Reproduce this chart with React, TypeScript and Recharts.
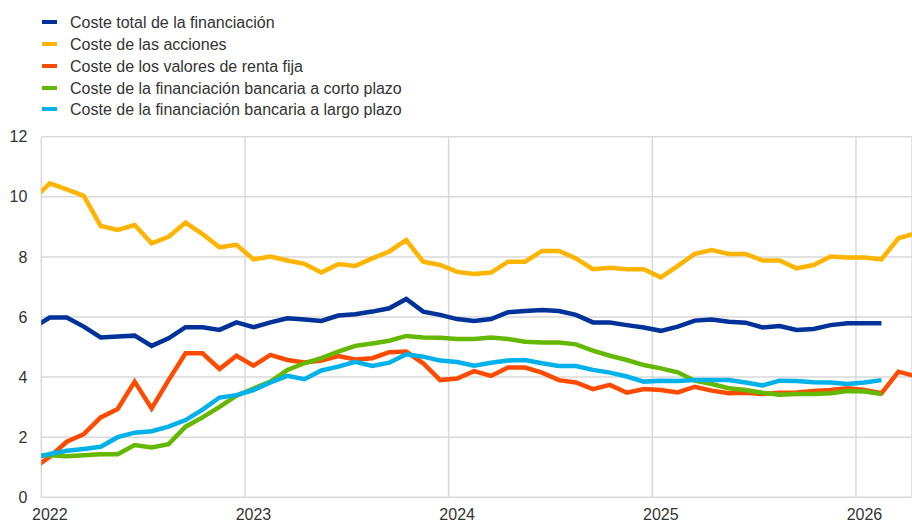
import { CartesianGrid, Line, LineChart, XAxis, YAxis } from 'recharts';

// monthly observations, Dec 2021 (clipped at the left edge) to Apr 2026
const months = [
  '2021-12',
  '2022-01', '2022-02', '2022-03', '2022-04', '2022-05', '2022-06',
  '2022-07', '2022-08', '2022-09', '2022-10', '2022-11', '2022-12',
  '2023-01', '2023-02', '2023-03', '2023-04', '2023-05', '2023-06',
  '2023-07', '2023-08', '2023-09', '2023-10', '2023-11', '2023-12',
  '2024-01', '2024-02', '2024-03', '2024-04', '2024-05', '2024-06',
  '2024-07', '2024-08', '2024-09', '2024-10', '2024-11', '2024-12',
  '2025-01', '2025-02', '2025-03', '2025-04', '2025-05', '2025-06',
  '2025-07', '2025-08', '2025-09', '2025-10', '2025-11', '2025-12',
  '2026-01', '2026-02', '2026-03', '2026-04',
];

const totalCost = [
  5.64,
  5.98, 5.98, 5.68, 5.32, 5.35, 5.38, 5.04, 5.29, 5.66, 5.66, 5.57, 5.82,
  5.66, 5.82, 5.96, 5.92, 5.87, 6.05, 6.09, 6.18, 6.29, 6.6, 6.18, 6.07,
  5.93, 5.87, 5.93, 6.16, 6.2, 6.23, 6.2, 6.07, 5.82, 5.82, 5.73, 5.65,
  5.54, 5.68, 5.88, 5.92, 5.84, 5.81, 5.65, 5.7, 5.57, 5.6, 5.73, 5.79,
  5.79, 5.79, null, null,
];

const equityCost = [
  9.9,
  10.45, 10.25, 10.03, 9.03, 8.9, 9.06, 8.45, 8.67, 9.14, 8.76, 8.32, 8.4,
  7.92, 8.01, 7.88, 7.77, 7.48, 7.76, 7.7, 7.95, 8.18, 8.56, 7.84, 7.73,
  7.5, 7.43, 7.48, 7.84, 7.84, 8.2, 8.2, 7.95, 7.59, 7.64, 7.59, 7.59,
  7.32, 7.7, 8.1, 8.23, 8.1, 8.1, 7.88, 7.88, 7.62, 7.73, 8.01, 7.98,
  7.98, 7.92, 8.62, 8.78,
];

const debtCost = [
  0.95,
  1.35, 1.85, 2.1, 2.66, 2.94, 3.85, 2.96, 3.9, 4.79, 4.79, 4.27, 4.71,
  4.38, 4.74, 4.57, 4.49, 4.55, 4.7, 4.59, 4.63, 4.83, 4.85, 4.46, 3.9,
  3.95, 4.2, 4.04, 4.32, 4.32, 4.15, 3.9, 3.82, 3.6, 3.74, 3.48, 3.6,
  3.57, 3.49, 3.68, 3.55, 3.46, 3.48, 3.44, 3.48, 3.49, 3.54, 3.57, 3.63,
  3.57, 3.46, 4.18, 4.03,
];

const shortBankCost = [
  1.4,
  1.4, 1.37, 1.4, 1.43, 1.43, 1.74, 1.66, 1.77, 2.35, 2.66, 3.01, 3.38,
  3.62, 3.85, 4.24, 4.46, 4.63, 4.85, 5.04, 5.12, 5.21, 5.37, 5.32, 5.31,
  5.27, 5.27, 5.32, 5.27, 5.18, 5.15, 5.15, 5.09, 4.88, 4.71, 4.57, 4.4,
  4.29, 4.16, 3.88, 3.77, 3.63, 3.57, 3.48, 3.41, 3.44, 3.44, 3.46, 3.54,
  3.52, 3.44, null, null,
];

const longBankCost = [
  1.3,
  1.44, 1.55, 1.61, 1.68, 2.0, 2.15, 2.2, 2.35, 2.57, 2.92, 3.32, 3.4,
  3.57, 3.82, 4.04, 3.93, 4.22, 4.35, 4.51, 4.37, 4.48, 4.76, 4.68, 4.55,
  4.5, 4.38, 4.48, 4.55, 4.57, 4.46, 4.37, 4.37, 4.24, 4.15, 4.02, 3.85,
  3.88, 3.87, 3.9, 3.9, 3.9, 3.82, 3.72, 3.88, 3.87, 3.83, 3.82, 3.77,
  3.82, 3.9, null, null,
];

const yearLabels = ['2022', '2023', '2024', '2025', '2026'];
const yTicks = [0, 2, 4, 6, 8, 10, 12];

const series = [
  { key: 'total', name: 'Coste total de la financiación', color: '#003299', values: totalCost },
  { key: 'equity', name: 'Coste de las acciones', color: '#FFB400', values: equityCost },
  { key: 'debt', name: 'Coste de los valores de renta fija', color: '#FF4B00', values: debtCost },
  { key: 'short', name: 'Coste de la financiación bancaria a corto plazo', color: '#65B800', values: shortBankCost },
  { key: 'long', name: 'Coste de la financiación bancaria a largo plazo', color: '#00B1EA', values: longBankCost },
];

const FONT = '"Liberation Sans", Arial, sans-serif';
const TEXT = '#333333';
const GRID = '#d9d9d9';

const WIDTH = 912;
const HEIGHT = 522;
const Y_AXIS_W = 41.3;
const X_MAX = 51.3; // months since Jan 2022 at the right edge
const HALF_MONTH_PX = (WIDTH - Y_AXIS_W) / X_MAX / 2;

// x position in months since 1 Jan 2022, observations sit mid-month
const monthPos = (m: string) => {
  const [y, mo] = m.split('-').map(Number);
  return (y - 2022) * 12 + (mo - 1) + 0.5;
};

const rows = months.map((m, i) => {
  const row: Record<string, number | string | null> = { month: m, x: monthPos(m) };
  series.forEach((s) => {
    row[s.key] = s.values[i];
  });
  return row;
});

const xTicks = yearLabels.map((_, i) => i * 12);

function YearTick({ x, y, payload }: any) {
  return (
    <text
      x={x + HALF_MONTH_PX}
      y={y}
      dy="0.71em"
      textAnchor="middle"
      fill={TEXT}
      fontSize={16}
      fontFamily={FONT}
    >
      {yearLabels[Math.round(payload.value / 12)]}
    </text>
  );
}

export default function App() {
  return (
    <div style={{ position: 'absolute', left: 0, top: 0, width: WIDTH, height: HEIGHT, background: '#fff' }}>
      <div style={{ position: 'absolute', left: 42, top: 12.6, fontFamily: FONT, fontSize: 16, color: TEXT }}>
        {series.map((s) => (
          <div key={s.key} style={{ display: 'flex', alignItems: 'center', height: 21.7, whiteSpace: 'nowrap' }}>
            <span
              style={{
                display: 'inline-block',
                width: 15,
                height: 4,
                background: s.color,
                marginRight: 13,
                position: 'relative',
                top: -1,
              }}
            />
            <span>{s.name}</span>
          </div>
        ))}
      </div>
      <LineChart
        width={WIDTH}
        height={HEIGHT}
        data={rows}
        margin={{ top: 136.7, right: 0, bottom: 0, left: 0 }}
        style={{ fontFamily: FONT }}
      >
        <CartesianGrid stroke={GRID} strokeWidth={1.5} />
        <XAxis
          dataKey="x"
          type="number"
          domain={[0, X_MAX]}
          allowDataOverflow
          ticks={xTicks}
          interval={0}
          height={24.7}
          axisLine={false}
          tickLine={false}
          tickSize={0}
          tickMargin={11}
          tick={<YearTick />}
        />
        <YAxis
          type="number"
          domain={[0, 12]}
          ticks={yTicks}
          interval={0}
          width={Y_AXIS_W}
          axisLine={false}
          tickLine={false}
          tickSize={0}
          tickMargin={14}
          tick={{ fill: TEXT, fontSize: 16, fontFamily: FONT }}
        />
        {series.map((s) => (
          <Line
            key={s.key}
            dataKey={s.key}
            name={s.name}
            type="linear"
            stroke={s.color}
            strokeWidth={4.5}
            dot={false}
            activeDot={false}
            isAnimationActive={false}
          />
        ))}
      </LineChart>
    </div>
  );
}
